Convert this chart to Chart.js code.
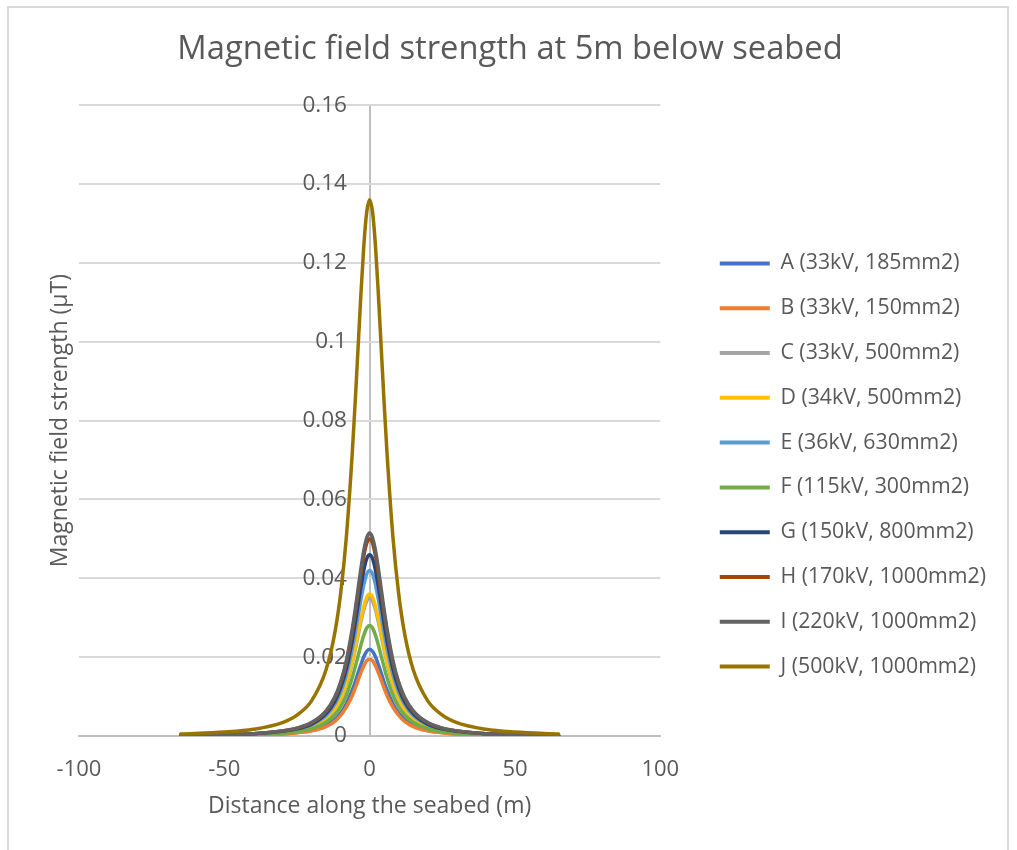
<!DOCTYPE html>
<html>
<head>
<meta charset="utf-8">
<script src="https://cdn.jsdelivr.net/npm/chart.js@4.4.1/dist/chart.umd.min.js"></script>
<style>
  html, body { margin: 0; padding: 0; background: #ffffff; }
  #frame { position: absolute; left: 7px; top: 6px; width: 1002px; height: 900px; border: 2px solid #d9d9d9; box-sizing: border-box; }
  #wrap { position: absolute; left: 0; top: 0; width: 1017px; height: 850px; }
</style>
</head>
<body>
<div id="frame"></div>
<div id="wrap"><canvas id="c" width="1017" height="850"></canvas></div>
<script>
const chartTitle = 'Magnetic field strength at 5m below seabed';
const xTitle = 'Distance along the seabed (m)';
const yTitle = 'Magnetic field strength (\u00b5T)';

const distance = [-65,-50,-40,-30,-25,-20,-15,-12,-10,-8,-6,-5,-4,-3,-2,-1,0,1,2,3,4,5,6,8,10,12,15,20,25,30,40,50,65];

const seriesNames = ['A (33kV, 185mm2)','B (33kV, 150mm2)','C (33kV, 500mm2)','D (34kV, 500mm2)','E (36kV, 630mm2)','F (115kV, 300mm2)','G (150kV, 800mm2)','H (170kV, 1000mm2)','I (220kV, 1000mm2)','J (500kV, 1000mm2)'];
const seriesColors = ['#4472C4','#ED7D31','#A5A5A5','#FFC000','#5B9BD5','#70AD47','#264478','#9E480E','#636363','#997300'];

const seriesA = [0.0001,0.0002,0.0003,0.0006,0.0009,0.0014,0.0027,0.0042,0.0058,0.0082,0.0116,0.0136,0.0159,0.0181,0.0201,0.0215,0.0220,0.0215,0.0201,0.0181,0.0159,0.0136,0.0116,0.0082,0.0058,0.0042,0.0027,0.0014,0.0009,0.0006,0.0003,0.0002,0.0001];
const seriesB = [0.0001,0.0001,0.0002,0.0005,0.0008,0.0013,0.0024,0.0037,0.0052,0.0073,0.0102,0.0121,0.0141,0.0161,0.0178,0.0191,0.0195,0.0191,0.0178,0.0161,0.0141,0.0121,0.0102,0.0073,0.0052,0.0037,0.0024,0.0013,0.0008,0.0005,0.0002,0.0001,0.0001];
const seriesC = [0.0001,0.0002,0.0004,0.0009,0.0014,0.0023,0.0043,0.0067,0.0093,0.0130,0.0184,0.0217,0.0253,0.0289,0.0320,0.0342,0.0350,0.0342,0.0320,0.0289,0.0253,0.0217,0.0184,0.0130,0.0093,0.0067,0.0043,0.0023,0.0014,0.0009,0.0004,0.0002,0.0001];
const seriesD = [0.0001,0.0003,0.0004,0.0009,0.0014,0.0024,0.0044,0.0069,0.0095,0.0134,0.0189,0.0223,0.0260,0.0297,0.0329,0.0352,0.0360,0.0352,0.0329,0.0297,0.0260,0.0223,0.0189,0.0134,0.0095,0.0069,0.0044,0.0024,0.0014,0.0009,0.0004,0.0003,0.0001];
const seriesE = [0.0002,0.0003,0.0005,0.0011,0.0016,0.0028,0.0052,0.0081,0.0111,0.0156,0.0221,0.0260,0.0303,0.0346,0.0384,0.0411,0.0420,0.0411,0.0384,0.0346,0.0303,0.0260,0.0221,0.0156,0.0111,0.0081,0.0052,0.0028,0.0016,0.0011,0.0005,0.0003,0.0002];
const seriesF = [0.0001,0.0002,0.0003,0.0007,0.0011,0.0018,0.0035,0.0054,0.0074,0.0104,0.0147,0.0174,0.0202,0.0231,0.0256,0.0274,0.0280,0.0274,0.0256,0.0231,0.0202,0.0174,0.0147,0.0104,0.0074,0.0054,0.0035,0.0018,0.0011,0.0007,0.0003,0.0002,0.0001];
const seriesG = [0.0002,0.0003,0.0006,0.0012,0.0018,0.0030,0.0057,0.0088,0.0122,0.0171,0.0242,0.0285,0.0332,0.0379,0.0421,0.0450,0.0460,0.0450,0.0421,0.0379,0.0332,0.0285,0.0242,0.0171,0.0122,0.0088,0.0057,0.0030,0.0018,0.0012,0.0006,0.0003,0.0002];
const seriesH = [0.0002,0.0004,0.0006,0.0013,0.0020,0.0033,0.0062,0.0096,0.0133,0.0186,0.0263,0.0310,0.0361,0.0412,0.0457,0.0489,0.0500,0.0489,0.0457,0.0412,0.0361,0.0310,0.0263,0.0186,0.0133,0.0096,0.0062,0.0033,0.0020,0.0013,0.0006,0.0004,0.0002];
const seriesI = [0.0002,0.0004,0.0006,0.0013,0.0020,0.0034,0.0064,0.0099,0.0136,0.0192,0.0271,0.0319,0.0372,0.0425,0.0471,0.0503,0.0515,0.0503,0.0471,0.0425,0.0372,0.0319,0.0271,0.0192,0.0136,0.0099,0.0064,0.0034,0.0020,0.0013,0.0006,0.0004,0.0002];
const seriesJ = [0.0005,0.0010,0.0017,0.0034,0.0053,0.0089,0.0168,0.0261,0.0360,0.0506,0.0715,0.0843,0.0982,0.1121,0.1244,0.1329,0.1360,0.1329,0.1244,0.1121,0.0982,0.0843,0.0715,0.0506,0.0360,0.0261,0.0168,0.0089,0.0053,0.0034,0.0017,0.0010,0.0005];

const xTicks = [-100, -50, 0, 50, 100];
const yTicks = [0, 0.02, 0.04, 0.06, 0.08, 0.1, 0.12, 0.14, 0.16];

const allSeries = [seriesA, seriesB, seriesC, seriesD, seriesE, seriesF, seriesG, seriesH, seriesI, seriesJ];
const textColor = '#595959';
const FONT = "'Open Sans', 'Noto Sans', sans-serif";

const datasets = allSeries.map((s, i) => ({
  label: seriesNames[i],
  data: distance.map((d, k) => ({ x: d, y: s[k] })),
  borderColor: seriesColors[i],
  backgroundColor: seriesColors[i],
  borderWidth: 3.5,
  pointRadius: 0,
  pointHoverRadius: 0,
  fill: false,
  cubicInterpolationMode: 'monotone',
  borderCapStyle: 'round',
  borderJoinStyle: 'round',
  order: allSeries.length - 1 - i,
  yAxisID: 'y'
}));

new Chart(document.getElementById('c'), {
  type: 'line',
  data: { datasets },
  options: {
    responsive: false,
    animation: false,
    events: [],
    layout: { padding: { top: 0, left: 24, right: 21, bottom: 30 } },
    plugins: {
      tooltip: { enabled: false },
      title: {
        display: true,
        text: chartTitle,
        color: textColor,
        font: { family: FONT, size: 32.7, weight: 'normal' },
        padding: { top: 30, bottom: 36 }
      },
      legend: {
        position: 'right',
        maxWidth: 330,
        title: {
          display: true,
          text: ' ',
          font: { family: FONT, size: 10 },
          padding: { top: 49, bottom: 49 }
        },
        labels: {
          color: textColor,
          font: { family: FONT, size: 21.3 },
          boxWidth: 50,
          boxHeight: 4,
          padding: 23.5,
          sort: (a, b) => a.datasetIndex - b.datasetIndex,
          generateLabels: (chart) => Chart.defaults.plugins.legend.labels.generateLabels(chart).map(l => Object.assign(l, { lineWidth: 0 }))
        }
      }
    },
    scales: {
      x: {
        type: 'linear',
        position: 'bottom',
        min: -100,
        max: 100,
        afterBuildTicks: (s) => { s.ticks = xTicks.map(v => ({ value: v })); },
        ticks: {
          color: textColor,
          font: { family: FONT, size: 22 },
          padding: 21,
          maxRotation: 0,
          callback: (v) => String(v)
        },
        grid: {
          drawTicks: false,
          color: (ctx) => (ctx.tick && ctx.tick.value === 0) ? '#bfbfbf' : 'rgba(0,0,0,0)',
          lineWidth: 2
        },
        border: { display: true, color: '#bfbfbf', width: 2 },
        title: {
          display: true,
          text: xTitle,
          color: textColor,
          font: { family: FONT, size: 23 },
          padding: { top: -12, bottom: 0 }
        }
      },
      y: {
        type: 'linear',
        position: 'left',
        min: 0,
        max: 0.16,
        afterBuildTicks: (s) => { s.ticks = yTicks.map(v => ({ value: v })); },
        ticks: { display: false },
        grid: { color: '#d9d9d9', lineWidth: 2, drawTicks: false },
        border: { display: false },
        title: {
          display: true,
          text: yTitle,
          color: textColor,
          font: { family: FONT, size: 23 },
          padding: { top: 22.2, bottom: 5.2 }
        }
      },
      yLab: {
        type: 'linear',
        position: { x: -7.8 },
        min: 0,
        max: 0.16,
        afterBuildTicks: (s) => { s.ticks = yTicks.map(v => ({ value: v })); },
        afterFit: (s) => { s.width = 0; },
        ticks: {
          color: textColor,
          font: { family: FONT, size: 22.5 },
          padding: 0,
          callback: (v) => String(+Number(v).toFixed(2))
        },
        grid: { display: false, drawTicks: false },
        border: { display: false }
      },
      yR: {
        type: 'linear',
        position: 'right',
        min: 0,
        max: 1,
        afterFit: (s) => { s.width = 36; },
        ticks: { display: false },
        grid: { display: false, drawTicks: false },
        border: { display: false }
      }
    }
  }
});
</script>
</body>
</html>
